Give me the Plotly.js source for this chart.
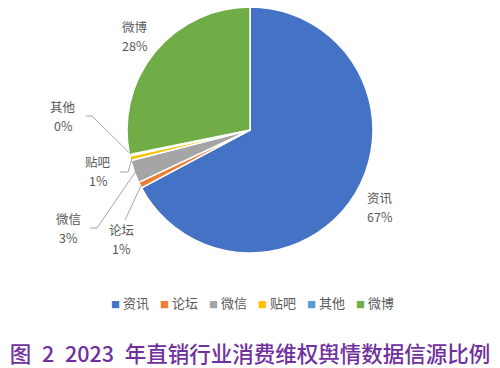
<!DOCTYPE html>
<html><head><meta charset="utf-8">
<script src="https://cdn.plot.ly/plotly-3.0.1.min.js"></script>
<style>html,body{margin:0;padding:0;background:#fff;}</style>
</head><body><div id="chart" style="width:500px;height:368px;"></div>
<script>
const categories = ['资讯','论坛','微信','贴吧','其他','微博'];
const shares = [67.2, 0.8, 3.0, 0.6, 0.2, 28.2];
const colors = ['#4472C4','#ED7D31','#A5A5A5','#FFC000','#5B9BD5','#70AD47'];
const chartTitle = '图\u20022\u20022023\u2002年直销行业消费维权舆情数据信源比例';

const W = 500, H = 368;
const cx = 250, cy = 130, R = 123;
const px = x => x / W, py = y => 1 - y / H;
const total = shares.reduce((a, b) => a + b, 0);
const pct = shares.map(v => Math.round(v / total * 100) + '%');
let acc = 0;
const mid = shares.map(v => { const a = (acc + v / 2) / total * 2 * Math.PI; acc += v; return a; });
const edge = (i, f) => [cx + R * f * Math.sin(mid[i]), cy - R * f * Math.cos(mid[i])];

// label centres (px) and leader-line elbows
const labelPos = [[380, 207], [121, 239], [68, 228], [98, 171], [63, 116], [135, 36]];
const leaders = { 1: [[125, 220]], 2: [[90, 228], [97, 228]], 3: [[120, 172], [128, 172]], 4: [[86, 116], [92, 116]] };

const labelFont = { family: '"Noto Sans CJK SC", "Noto Sans", sans-serif', size: 12.5, color: '#595959' };
const annotations = [];
categories.forEach((c, i) => {
  [[c, -9.5], [pct[i], 9.5]].forEach(([t, dy]) => annotations.push({
    xref: 'paper', yref: 'paper', x: px(labelPos[i][0]), y: py(labelPos[i][1] + dy),
    text: t, showarrow: false, xanchor: 'center', yanchor: 'middle',
    font: labelFont, borderpad: 0, height: 15
  }));
});
// legend
const legX0 = 109, legStep = 49, legY = 302;
categories.forEach((c, i) => {
  annotations.push({
    xref: 'paper', yref: 'paper', x: px(legX0 + i * legStep), y: py(legY),
    xanchor: 'left', yanchor: 'middle', showarrow: false,
    text: '<span style="color:' + colors[i] + ';font-size:9px">■</span> ' + c,
    font: { family: labelFont.family, size: 13, color: '#595959' }
  });
});

const shapes = Object.keys(leaders).map(k => {
  const pts = leaders[k].concat([edge(+k, 0.985)]);
  const d = pts.map((p, j) => (j ? 'L' : 'M') + px(p[0]).toFixed(4) + ',' + py(p[1]).toFixed(4)).join(' ');
  return { type: 'path', xref: 'paper', yref: 'paper', path: d, line: { color: '#A6A6A6', width: 1 } };
});

const trace = {
  type: 'pie', labels: categories, values: shares, sort: false, direction: 'clockwise', rotation: 0,
  marker: { colors: colors, line: { color: '#FFFFFF', width: 1.5 } },
  textinfo: 'none', hoverinfo: 'label+percent', automargin: false,
  domain: { x: [0, 1], y: [py(cy + R), py(cy - R)] }
};

const layout = {
  width: W, height: H, margin: { l: 0, r: 0, t: 0, b: 0 },
  paper_bgcolor: '#fff', plot_bgcolor: '#fff', showlegend: false,
  title: { text: chartTitle, x: 0.5, xanchor: 'center', y: py(354), yanchor: 'middle',
    font: { family: '"Noto Sans CJK SC", sans-serif', size: 21.5, color: '#7030A0', weight: 500 } },
  annotations: annotations, shapes: shapes
};
Plotly.newPlot('chart', [trace], layout, { displayModeBar: false, staticPlot: true });
</script></body></html>
